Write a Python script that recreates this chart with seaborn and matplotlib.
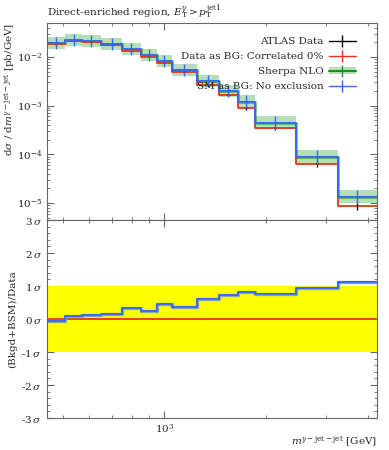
import numpy as np
import pandas as pd
import seaborn as sns
import matplotlib.pyplot as plt
from matplotlib.lines import Line2D
from matplotlib.patches import Patch
from matplotlib.ticker import FixedLocator, NullFormatter, LogLocator

# bin edges of m^{gamma-jet-jet} [GeV]
edges = [450, 510, 570, 650, 750, 850, 950, 1050, 1250, 1450, 1650, 1850, 2450, 3250, 4250]

# ATLAS data (= data as BG) [pb/GeV]
data = [0.0185, 0.0216, 0.0203, 0.0174, 0.0133, 0.0101, 0.00741, 0.00484,
        0.00266, 0.00166, 8.8e-4, 3.44e-4, 6.3e-5, 8.7e-6]
data_err = [0.03, 0.03, 0.03, 0.03, 0.03, 0.03, 0.04, 0.04, 0.05, 0.06, 0.07, 0.08, 0.12, 0.17]

# Sherpa NLO / SM as BG [pb/GeV]
sherpa = [0.0191, 0.0223, 0.0210, 0.0182, 0.0144, 0.0110, 0.00828, 0.00541,
          0.00321, 0.00200, 0.00121, 4.48e-4, 8.7e-5, 1.35e-5]
sherpa_err = [0.33, 0.32, 0.32, 0.32, 0.32, 0.32, 0.32, 0.33, 0.33, 0.33, 0.35, 0.38, 0.38, 0.38]

# significance in the ratio panel [sigma]
sig_sm = [-0.05, 0.08, 0.13, 0.16, 0.32, 0.24, 0.44, 0.37, 0.61, 0.72, 0.82, 0.77, 0.95, 1.11]
sig_data = [0.0] * 14

red = "#EE3311"
blue = "#3366FF"
green = "#109618"
fs = 7.5

sns.set_style("ticks")
plt.rcParams["font.family"] = ["DejaVu Serif"]
plt.rcParams["mathtext.fontset"] = "dejavuserif"
plt.rcParams["xtick.direction"] = "in"
plt.rcParams["ytick.direction"] = "in"
plt.rcParams["xtick.top"] = True
plt.rcParams["ytick.right"] = True

e = np.array(edges, dtype=float)
cen = np.sqrt(e[:-1] * e[1:])
d = np.array(data)
s = np.array(sherpa)
serr = np.array(sherpa_err)
derr = np.array(data_err)

fig = plt.figure(figsize=(3.89, 4.5), dpi=100)
ax = fig.add_axes([0.121, 0.511, 0.848, 0.438])
ax2 = fig.add_axes([0.121, 0.0711, 0.848, 0.44], sharex=ax)


def steps(a, x, y, **kw):
    df = pd.DataFrame({"x": x, "y": list(y) + [y[-1]]})
    sns.lineplot(data=df, x="x", y="y", drawstyle="steps-post", ax=a, **kw)


# top panel
ax.stairs(s * (1 + serr), e, baseline=s / (1 + serr), fill=True,
          color=green, alpha=0.3, lw=0)
steps(ax, e, s, color=green, lw=2.2, alpha=0.5)
steps(ax, e, d, color=red, lw=1.3)
ax.vlines(cen, d * (1 - derr), d * (1 + derr), color="black", lw=1)
steps(ax, e, s, color=blue, lw=1.3)
ax.vlines(cen, s / (1 + serr), s * (1 + serr), color=blue, lw=1)

ax.set_xscale("log")
ax.set_yscale("log")
ax.set_xlim(450, 4250)
ax.set_ylim(4.47e-6, 0.050)
ax.set_xlabel("")
ax.set_ylabel(r"d$\sigma$ / d$m^{\gamma-\mathrm{jet-jet}}$ [pb/GeV]", loc="top", fontsize=fs)
ax.yaxis.set_label_coords(-0.092, 1.0)
ax.tick_params(labelbottom=False, labelsize=fs)
ax.yaxis.set_major_locator(LogLocator(base=10, numticks=10))
ax.yaxis.set_minor_locator(LogLocator(base=10, subs=np.arange(2, 10), numticks=20))

handles = [
    Line2D([], [], color="black", lw=1, marker="|", markersize=8, mew=1),
    Line2D([], [], color=red, lw=1, marker="|", markersize=8, mew=1),
    (Patch(facecolor=green, alpha=0.3, lw=0),
     Line2D([], [], color=green, lw=1.5, marker="|", markersize=8, mew=1)),
    Line2D([], [], color=blue, lw=1, marker="|", markersize=8, mew=1),
]
labels = ["ATLAS Data", "Data as BG: Correlated 0%", "Sherpa NLO", "SM as BG: No exclusion"]
ax.legend(handles, labels, loc="upper right", bbox_to_anchor=(0.955, 0.96),
          markerfirst=False, frameon=False, fontsize=fs, handlelength=2.6,
          handletextpad=0.5, labelspacing=0.55, borderaxespad=0.2)

# ratio panel
ax2.axhspan(-1, 1, color="#FFFF00", lw=0)
steps(ax2, e, sig_data, color=red, lw=1.3)
steps(ax2, e, sig_sm, color="#88a8a0", lw=2.4)
steps(ax2, e, sig_sm, color=blue, lw=1.3)
ax2.set_ylim(-3, 3)
ax2.yaxis.set_major_locator(FixedLocator([-3, -2, -1, 0, 1, 2, 3]))
ax2.set_yticklabels([r"-3$\,\sigma$", r"-2$\,\sigma$", r"-1$\,\sigma$", r"0$\,\sigma$",
                     r"1$\,\sigma$", r"2$\,\sigma$", r"3$\,\sigma$"])
ax2.yaxis.set_minor_locator(FixedLocator(np.arange(-3, 3.01, 0.2)))
ax2.set_xticks([1000])
ax2.set_xticklabels([r"$10^3$"])
ax2.xaxis.set_minor_locator(FixedLocator([500, 600, 700, 800, 900, 2000, 3000, 4000]))
ax2.xaxis.set_minor_formatter(NullFormatter())
ax2.tick_params(labelsize=fs)
ax2.set_ylabel("(Bkgd+BSM)/Data", fontsize=fs)
ax2.yaxis.set_label_coords(-0.092, 0.5)
ax2.set_xlabel(r"$m^{\gamma-\mathrm{jet-jet}}$ [GeV]", loc="right", fontsize=fs)
ax2.xaxis.set_label_coords(1.0, -0.085)

for a in (ax, ax2):
    for sp in a.spines.values():
        sp.set_color("#666666")
        sp.set_linewidth(0.8)
    a.tick_params(which="major", length=5, color="#666666", width=0.8)
    a.tick_params(which="minor", length=2.5, color="#666666", width=0.6)

fig.text(0.121, 1 - 15 / 450, r"Direct-enriched region, $E_\mathrm{T}^\gamma > p_\mathrm{T}^\mathrm{jet1}$",
         ha="left", va="baseline", fontsize=fs)

fig.savefig("out.png", dpi=100)
